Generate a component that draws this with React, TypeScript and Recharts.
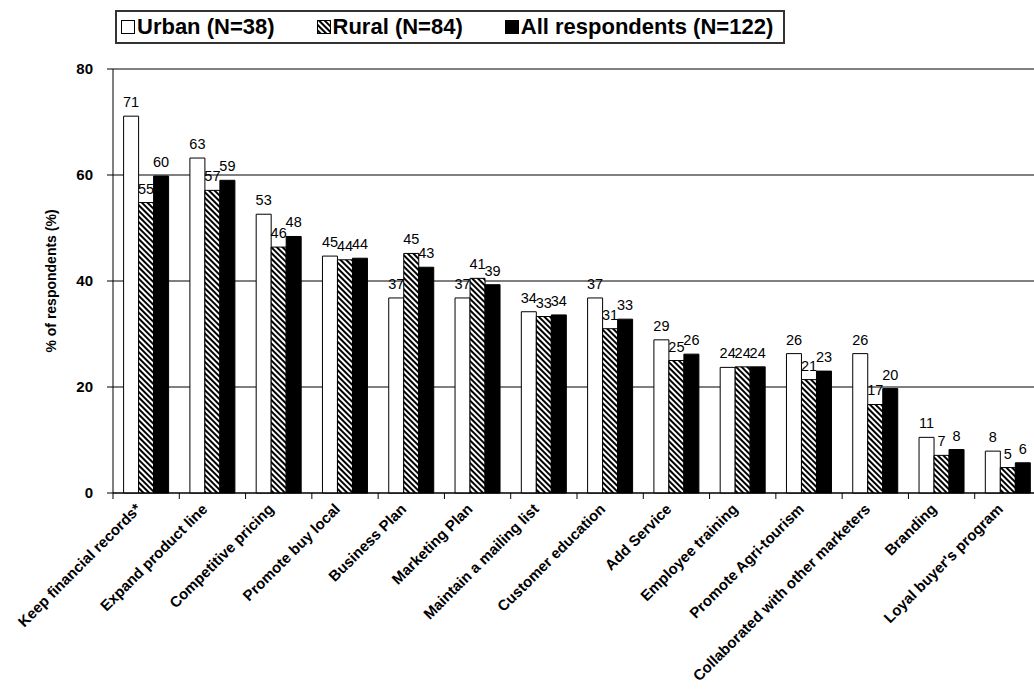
import React from "react"
import {
  BarChart,
  Bar,
  XAxis,
  YAxis,
  CartesianGrid,
  Legend,
  LabelList,
} from "recharts"

const categories = [
  "Keep financial records*",
  "Expand product line",
  "Competitive pricing",
  "Promote buy local",
  "Business Plan",
  "Marketing Plan",
  "Maintain a mailing list",
  "Customer education",
  "Add Service",
  "Employee training",
  "Promote Agri-tourism",
  "Collaborated with other marketers",
  "Branding",
  "Loyal buyer's program",
]

const urban = [71.1, 63.2, 52.6, 44.7, 36.8, 36.8, 34.2, 36.8, 28.9, 23.7, 26.3, 26.3, 10.5, 7.9]
const rural = [54.8, 57.1, 46.4, 44.0, 45.2, 40.5, 33.3, 31.0, 25.0, 23.8, 21.4, 16.7, 7.1, 4.8]
const allResp = [59.8, 59.0, 48.4, 44.3, 42.6, 39.3, 33.6, 32.8, 26.2, 23.8, 23.0, 19.7, 8.2, 5.7]

const yTicks = [0, 20, 40, 60, 80]

const seriesNames = ["Urban (N=38)", "Rural (N=84)", "All respondents (N=122)"]

const data = categories.map((name, i) => ({
  name,
  urban: urban[i],
  rural: rural[i],
  all: allResp[i],
}))

const FONT = "'Liberation Sans', Arial, sans-serif"

// excel style: tick marks between categories, labels at 45 degrees
function CategoryTick(props: any) {
  const { x, y, payload } = props
  const half = payload && payload.offset ? payload.offset : 33.1
  const tx = x - 4
  const ty = y + 17
  return (
    <g>
      <line x1={x - half} y1={y} x2={x - half} y2={y + 6} stroke="#000" />
      <text
        x={tx}
        y={ty}
        transform={`rotate(-45 ${tx} ${ty})`}
        textAnchor="end"
        fontFamily={FONT}
        fontWeight="bold"
        fontSize={15}
        fill="#000"
      >
        {payload.value}
      </text>
    </g>
  )
}

function ValueLabel(props: any) {
  const { x, y, width, value } = props
  return (
    <text
      x={x + width / 2}
      y={y - 9}
      textAnchor="middle"
      fontFamily={FONT}
      fontSize={14.5}
      fill="#000"
    >
      {Math.round(value)}
    </text>
  )
}

function Marker({ kind }: { kind: number }) {
  return (
    <svg width={14} height={14} style={{ marginRight: 2 }}>
      <defs>
        <pattern id="legHatch" patternUnits="userSpaceOnUse" width="4" height="4" patternTransform="rotate(-45)">
          <rect x="0" y="0" width="4" height="4" fill="#fff" />
          <rect x="0" y="0" width="2" height="4" fill="#000" />
        </pattern>
      </defs>
      <rect
        x={0.5}
        y={0.5}
        width={13}
        height={13}
        fill={kind === 0 ? "#fff" : kind === 1 ? "url(#legHatch)" : "#000"}
        stroke="#000"
      />
    </svg>
  )
}

function renderLegend() {
  return (
    <div
      style={{
        display: "flex",
        alignItems: "center",
        border: "2px solid #333",
        height: 34,
        padding: "0 4px",
        fontFamily: FONT,
        fontWeight: "bold",
        fontSize: 22,
        color: "#000",
        background: "#fff",
        boxSizing: "border-box",
      }}
    >
      {seriesNames.map((s, i) => (
        <div key={s} style={{ display: "flex", alignItems: "center", marginRight: i < 2 ? 42 : 6 }}>
          <Marker kind={i} />
          <span>{s}</span>
        </div>
      ))}
    </div>
  )
}

export default function App() {
  return (
    <div
      style={{
        position: "absolute",
        left: 0,
        top: 0,
        width: 1034,
        height: 690,
        overflow: "hidden",
        background: "#fff",
      }}
    >
      <BarChart
        width={1050}
        height={690}
        data={data}
        margin={{ top: 69, right: 9, bottom: 0, left: 0 }}
        barCategoryGap="16%"
        barGap={0}
      >
        <defs>
          <pattern id="ruralHatch" patternUnits="userSpaceOnUse" width="4" height="4" patternTransform="rotate(-45)">
            <rect x="0" y="0" width="4" height="4" fill="#fff" />
            <rect x="0" y="0" width="2" height="4" fill="#000" />
          </pattern>
        </defs>
        <CartesianGrid vertical={false} stroke="#000" />
        <XAxis
          dataKey="name"
          interval={0}
          height={197}
          tickLine={false}
          tickSize={0}
          tickMargin={0}
          axisLine={{ stroke: "#000" }}
          tick={<CategoryTick />}
        />
        <YAxis
          width={113}
          domain={[0, 80]}
          ticks={yTicks}
          interval={0}
          axisLine={{ stroke: "#000" }}
          tickLine={{ stroke: "#000" }}
          tickSize={6}
          tickMargin={14}
          tick={{ fontFamily: FONT, fontWeight: "bold", fontSize: 15, fill: "#000" }}
          label={(p: any) => {
            const vb = p.viewBox || {}
            const cx = 56
            const cy = (vb.y || 69) + (vb.height || 424) / 2
            return (
              <text
                x={cx}
                y={cy}
                transform={`rotate(-90 ${cx} ${cy})`}
                textAnchor="middle"
                fontFamily={FONT}
                fontWeight="bold"
                fontSize={14}
                fill="#000"
              >
                % of respondents (%)
              </text>
            )
          }}
        />
        <Legend
          verticalAlign="middle"
          content={renderLegend}
          wrapperStyle={{ top: 10, left: 115, width: "auto" }}
        />
        <Bar dataKey="urban" name={seriesNames[0]} fill="#fff" stroke="#000" isAnimationActive={false}>
          <LabelList dataKey="urban" content={<ValueLabel />} />
        </Bar>
        <Bar dataKey="rural" name={seriesNames[1]} fill="url(#ruralHatch)" stroke="#000" isAnimationActive={false}>
          <LabelList dataKey="rural" content={<ValueLabel />} />
        </Bar>
        <Bar dataKey="all" name={seriesNames[2]} fill="#000" stroke="#000" isAnimationActive={false}>
          <LabelList dataKey="all" content={<ValueLabel />} />
        </Bar>
      </BarChart>
    </div>
  )
}
